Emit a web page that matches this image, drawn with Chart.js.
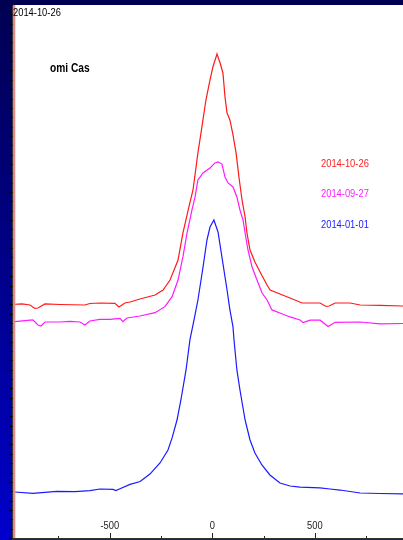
<!DOCTYPE html>
<html>
<head>
<meta charset="utf-8">
<script src="https://cdn.jsdelivr.net/npm/chart.js@4/dist/chart.umd.min.js"></script>
<style>
  html, body { margin: 0; padding: 0; }
  body {
    width: 403px; height: 540px; overflow: hidden;
    background: linear-gradient(to bottom, #000052 0%, #00008a 50%, #0000cc 100%);
  }
  #wrap { position: absolute; left: 0; top: 0; width: 403px; height: 540px; }
</style>
</head>
<body>
<div id="wrap"><canvas id="c" width="403" height="540"></canvas></div>
<script>
// Hα profiles of omi Cas, velocity (km/s) vs. normalised flux (stacked)
const seriesDates = ['2014-10-26', '2014-09-27', '2014-01-01'];
const seriesColors = ['#ff1a1a', '#ff1aff', '#1a1aff'];
const starName = 'omi Cas';
const headerDate = '2014-10-26';

const xTickValues = [-750, -500, -250, 0, 250, 500, 750];
const xLabelValues = [-500, 0, 500];

const redVel = [-962, -928, -889, -865, -850, -816, -743, -621, -597, -548, -475, -455, -426, -401, -353, -279, -240, -206, -167, -143, -114, -94, -70, -55, -31, -11, 3, 23, 38, 52, 62, 72, 86, 101, 116, 130, 145, 160, 169, 184, 208, 233, 267, 282, 330, 379, 438, 526, 555, 570, 599, 672, 721, 818, 930];
const redFlux = [3.000, 3.003, 2.992, 2.955, 2.960, 3.003, 2.997, 2.992, 3.008, 3.013, 3.010, 2.971, 3.013, 3.024, 3.056, 3.099, 3.152, 3.259, 3.473, 3.762, 4.040, 4.222, 4.618, 4.832, 5.184, 5.398, 5.537, 5.676, 5.580, 5.473, 5.217, 5.045, 4.971, 4.810, 4.618, 4.361, 4.115, 3.933, 3.762, 3.580, 3.452, 3.345, 3.206, 3.152, 3.110, 3.067, 3.013, 3.013, 2.976, 2.981, 3.013, 3.013, 2.992, 2.987, 2.981];

const magVel = [-962, -913, -875, -850, -835, -816, -743, -694, -645, -621, -597, -548, -499, -450, -436, -416, -353, -279, -231, -196, -167, -143, -123, -99, -84, -70, -45, -11, 13, 28, 47, 62, 77, 101, 120, 135, 150, 160, 174, 194, 218, 243, 267, 291, 330, 379, 428, 443, 477, 526, 565, 599, 721, 818, 930];
const magFlux = [2.813, 2.824, 2.832, 2.778, 2.767, 2.810, 2.810, 2.816, 2.810, 2.778, 2.821, 2.837, 2.837, 2.848, 2.813, 2.853, 2.874, 2.910, 2.974, 3.081, 3.259, 3.509, 3.762, 4.008, 4.147, 4.329, 4.404, 4.457, 4.511, 4.521, 4.499, 4.361, 4.297, 4.254, 4.147, 4.008, 3.901, 3.762, 3.580, 3.398, 3.259, 3.120, 3.045, 2.939, 2.906, 2.864, 2.832, 2.803, 2.829, 2.829, 2.762, 2.807, 2.810, 2.789, 2.794];

const blueVel = [-962, -875, -758, -670, -597, -548, -484, -470, -450, -401, -352, -304, -255, -216, -196, -172, -153, -128, -109, -89, -70, -45, -26, -11, 8, 28, 47, 72, 86, 101, 106, 120, 135, 160, 184, 208, 242, 281, 330, 379, 428, 525, 574, 623, 721, 818, 930];
const blueFlux = [0.992, 0.978, 0.999, 0.997, 1.006, 1.024, 1.019, 1.008, 1.027, 1.074, 1.104, 1.184, 1.302, 1.441, 1.570, 1.762, 1.976, 2.297, 2.618, 2.832, 3.045, 3.398, 3.687, 3.826, 3.901, 3.773, 3.505, 3.152, 2.939, 2.757, 2.618, 2.297, 2.083, 1.762, 1.548, 1.409, 1.281, 1.174, 1.088, 1.056, 1.045, 1.035, 1.024, 1.013, 0.981, 0.976, 0.971];

const xMin = -962, xMax = 930;
const yMin = 0.5, yMax = 6.2, yTickStep = 0.1;

function points(vel, flux) {
  return vel.map((v, i) => ({ x: v, y: flux[i] }));
}

const FONT = '"Liberation Sans", Arial, sans-serif';
const SQUEEZE = 0.85;

// condensed text: draw with a horizontal squeeze around the anchor point
function narrowText(ctx, text, x, y, align) {
  ctx.save();
  ctx.translate(x, y);
  ctx.scale(SQUEEZE, 1);
  ctx.textAlign = align;
  ctx.fillText(text, 0, 0);
  ctx.restore();
}

const frame = {
  id: 'frame',
  beforeDraw(chart) {
    const { ctx, chartArea: a } = chart;
    ctx.save();
    ctx.fillStyle = '#ffffff';
    ctx.fillRect(a.left - 2, a.top, a.right - a.left + 2, a.bottom - a.top);
    ctx.restore();
  },
  afterDraw(chart) {
    const { ctx, chartArea: a, scales } = chart;
    const xs = scales.x, ys = scales.y;
    ctx.save();
    // left axis: dark rule with a pink edge and ticks pointing outward
    ctx.fillStyle = '#3a3a3a';
    ctx.fillRect(12, a.top, 1.5, a.bottom - a.top + 1);
    ctx.fillStyle = '#e58c8c';
    ctx.fillRect(13.5, a.top, 1.8, a.bottom - a.top);
    ctx.strokeStyle = '#000';
    ctx.lineWidth = 1.2;
    for (let v = yMin; v <= yMax + 1e-6; v += yTickStep) {
      const py = Math.round(ys.getPixelForValue(v)) + 0.5;
      ctx.beginPath();
      ctx.moveTo(9.5, py);
      ctx.lineTo(12.5, py);
      ctx.stroke();
    }
    // bottom axis with inward ticks
    ctx.fillStyle = '#333';
    ctx.fillRect(12, a.bottom, a.right - 12, 1.6);
    ctx.strokeStyle = '#222';
    ctx.lineWidth = 1;
    xTickValues.forEach(v => {
      const px = Math.round(xs.getPixelForValue(v)) + 0.5;
      const major = xLabelValues.includes(v);
      ctx.beginPath();
      ctx.moveTo(px, a.bottom);
      ctx.lineTo(px, a.bottom - (major ? 5 : 2));
      ctx.stroke();
    });
    ctx.fillStyle = '#222';
    ctx.font = '11px ' + FONT;
    ctx.textBaseline = 'alphabetic';
    xLabelValues.forEach(v => {
      narrowText(ctx, String(v), xs.getPixelForValue(v), 529, 'center');
    });
    // header date and star name
    ctx.fillStyle = '#000';
    ctx.font = '11px ' + FONT;
    narrowText(ctx, headerDate, 13, 16, 'left');
    ctx.font = 'bold 12px ' + FONT;
    narrowText(ctx, starName, 50, 72, 'left');
    // series dates
    ctx.font = '11px ' + FONT;
    const labelY = [167, 197, 228];
    seriesDates.forEach((d, i) => {
      ctx.fillStyle = ['#ff2020', '#ff20ff', '#2020ff'][i];
      narrowText(ctx, d, 321, labelY[i], 'left');
    });
    ctx.restore();
  }
};

new Chart(document.getElementById('c'), {
  type: 'line',
  data: {
    datasets: [
      { label: seriesDates[0], data: points(redVel, redFlux), borderColor: seriesColors[0] },
      { label: seriesDates[1], data: points(magVel, magFlux), borderColor: seriesColors[1] },
      { label: seriesDates[2], data: points(blueVel, blueFlux), borderColor: seriesColors[2] }
    ]
  },
  options: {
    responsive: false,
    animation: false,
    devicePixelRatio: 1,
    layout: { padding: { left: 15, top: 5, right: 0, bottom: 2 } },
    elements: {
      line: { borderWidth: 1.2, tension: 0 },
      point: { radius: 0 }
    },
    scales: {
      x: { type: 'linear', min: xMin, max: xMax, display: false },
      y: { type: 'linear', min: yMin, max: yMax, display: false }
    },
    plugins: {
      legend: { display: false },
      tooltip: { enabled: false }
    }
  },
  plugins: [frame]
});
</script>
</body>
</html>
